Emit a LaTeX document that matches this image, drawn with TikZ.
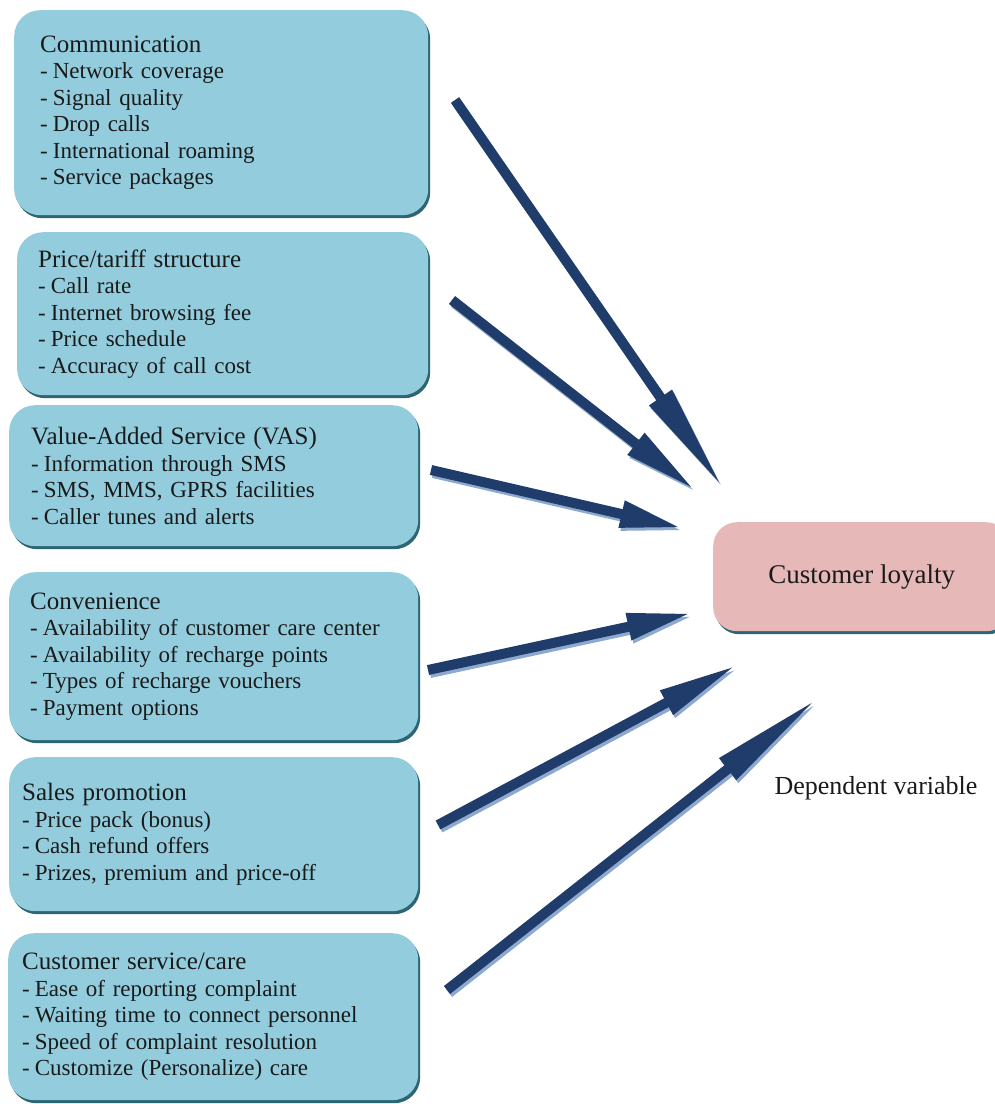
\documentclass[tikz,border=0pt]{standalone}
\usepackage{fontspec}
\setmainfont{Liberation Serif}
\usetikzlibrary{arrows.meta,shadows}
\definecolor{boxfill}{HTML}{93CDDD}
\definecolor{boxshadow}{HTML}{2C6674}
\definecolor{loyfill}{HTML}{E6B9B8}
\definecolor{arrownavy}{HTML}{1F3C6A}
\definecolor{arrowshade}{HTML}{8EA9CF}
\definecolor{txt}{HTML}{1A1A1A}
\newcommand\itm{-\hspace{5pt}}
\newcommand\ttl[1]{{\fontsize{25}{28}\selectfont #1}}
\tikzset{
  factor/.style={fill=boxfill, rounded corners=26pt, anchor=north west, align=left,
    font=\fontsize{23}{26.5}\selectfont, inner ysep=0pt, text=txt,
    general shadow={fill=boxshadow, shadow xshift=2pt, shadow yshift=-3pt}},
  loyal/.style={fill=loyfill, rounded corners=24pt, anchor=north west, align=center,
    font=\fontsize{27}{30}\selectfont, inner sep=0pt, text=txt,
    general shadow={fill=boxshadow, shadow xshift=2pt, shadow yshift=-3pt}},
  arrowmain/.style={draw=arrownavy, line width=10pt},
  arrowshadow/.style={draw=arrowshade, line width=10pt},
  plainlabel/.style={font=\fontsize{26}{30}\selectfont, text=txt, inner sep=0pt}
}
\begin{document}
\begin{tikzpicture}[x=1pt,y=-1pt]
\clip (0,0) rectangle (995,1104);
\fill[white] (0,0) rectangle (995,1104);

\node[factor, text width=362pt, inner xsep=26pt, minimum height=205pt] (comm) at (14,10)
 {\ttl{Communication}\\\itm Network coverage\\\itm Signal quality\\\itm Drop calls\\\itm International roaming\\\itm Service packages};
\node[factor, text width=369pt, inner xsep=21pt, minimum height=163pt] (price) at (17,232)
 {\ttl{Price/tariff structure}\\\itm Call rate\\\itm Internet browsing fee\\\itm Price schedule\\\itm Accuracy of call cost};
\node[factor, text width=365pt, inner xsep=22pt, minimum height=141pt] (vas) at (9,405)
 {\ttl{Value-Added Service (VAS)}\\\itm Information through SMS\\\itm SMS, MMS, GPRS facilities\\\itm Caller tunes and alerts};
\node[factor, text width=367pt, inner xsep=21pt, minimum height=168pt] (conv) at (9,572)
 {\ttl{Convenience}\\\itm Availability of customer care center\\\itm Availability of recharge points\\\itm Types of recharge vouchers\\\itm Payment options};
\node[factor, text width=383pt, inner xsep=13pt, minimum height=154pt] (sales) at (9,757)
 {\ttl{Sales promotion}\\\itm Price pack (bonus)\\\itm Cash refund offers\\\itm Prizes, premium and price-off\\[14pt]};
\node[factor, text width=382pt, inner xsep=14pt, minimum height=167pt] (care) at (8,933)
 {\ttl{Customer service/care}\\\itm Ease of reporting complaint\\\itm Waiting time to connect personnel\\\itm Speed of complaint resolution\\\itm Customize (Personalize) care};

\node[loyal, minimum width=297pt, minimum height=109pt] (loyalty) at (713,522) {Customer loyalty};
\node[plainlabel] (dep) at (876,788) {Dependent variable};

\coordinate (s1) at (455,100);  \coordinate (e1) at (723,488);
\coordinate (s2) at (452,300);  \coordinate (e2) at (695,490);
\coordinate (s3) at (431,470);  \coordinate (e3) at (682,528);
\coordinate (s4) at (428,670);  \coordinate (e4) at (692,613);
\coordinate (s5) at (438,825);  \coordinate (e5) at (737,665);
\coordinate (s6) at (447,990);  \coordinate (e6) at (818,698);

\foreach \i/\L in {1/110,2/75,3/62,4/65,5/80,6/115} {
  \draw[arrowshadow, -{Triangle[length=\L pt,width=25pt]}, transform canvas={shift={(2pt,-3pt)}}] (s\i) -- (e\i);
  \draw[arrowmain, -{Triangle[length=\L pt,width=25pt]}] (s\i) -- (e\i);
}
\end{tikzpicture}
\end{document}
